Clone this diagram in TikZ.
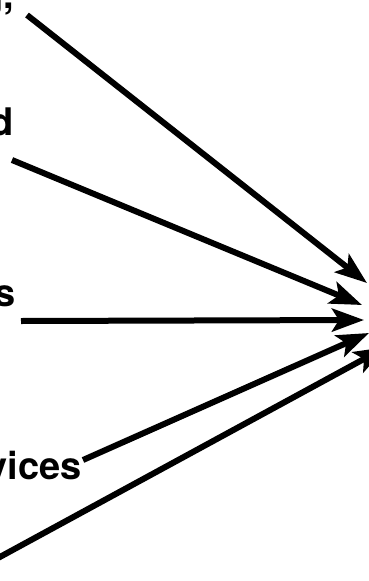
\documentclass[tikz,border=0pt]{standalone}
\usepackage{fontspec}
\setmainfont{TeX Gyre Heros}
\usetikzlibrary{arrows.meta}

\begin{document}
\begin{tikzpicture}[x=1pt, y=-1pt,
    label text/.style={anchor=base east, inner sep=0pt,
      font=\fontsize{38}{40}\selectfont\bfseries},
    feed/.style={line width=6pt,
      -{Stealth[length=32pt, width=23pt, inset=7pt]}}]

  \useasboundingbox (0,0) rectangle (368,581);

  % === Labels (cut off at the left edge) ===
  \node[label text] (lg) at (14,8) {g,};
  \node[label text] (ld) at (14,135) {d};
  \node[label text] (ls) at (16,306) {s};
  \node[label text] (lv) at (82,479) {vices};

  % === Start and end points of the arrows ===
  \coordinate (s1) at (27,15);
  \coordinate (s2) at (12,160);
  \coordinate (s3) at (21,321);
  \coordinate (s4) at (83,460);
  \coordinate (s5) at (-2,558);

  \coordinate (t1) at (367,283);
  \coordinate (t2) at (362,305);
  \coordinate (t3) at (364,320);
  \coordinate (t4) at (369,333);
  \coordinate (t5) at (386,347);

  % === Arrows converging on the right ===
  \foreach \i in {1,...,5} {
    \draw[feed] (s\i) -- (t\i);
  }

\end{tikzpicture}
\end{document}
